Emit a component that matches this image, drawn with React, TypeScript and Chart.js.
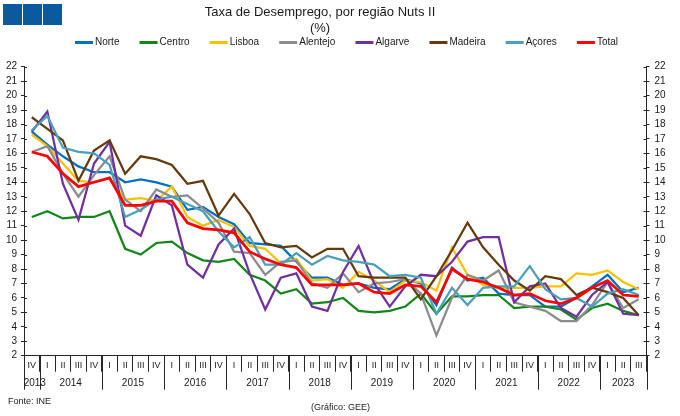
import React, { useEffect, useRef } from 'react';
import { Chart, registerables } from 'chart.js';

Chart.register(...registerables);

// Quarterly unemployment rate (%) by NUTS II region, 2013 Q4 – 2023 Q3
const yearLabels = ['2013', '2014', '2015', '2016', '2017', '2018', '2019', '2020', '2021', '2022', '2023'];
const yearSpans = [1, 4, 4, 4, 4, 4, 4, 4, 4, 4, 3];
const quarterLabels = [
  'IV',
  'I', 'II', 'III', 'IV',
  'I', 'II', 'III', 'IV',
  'I', 'II', 'III', 'IV',
  'I', 'II', 'III', 'IV',
  'I', 'II', 'III', 'IV',
  'I', 'II', 'III', 'IV',
  'I', 'II', 'III', 'IV',
  'I', 'II', 'III', 'IV',
  'I', 'II', 'III', 'IV',
  'I', 'II', 'III',
];

const seriesNames = ['Norte', 'Centro', 'Lisboa', 'Alentejo', 'Algarve', 'Madeira', 'Açores', 'Total'];

const norte = [
  17.5, 16.6, 15.8, 15.1, 14.7, 14.7, 14.0, 14.2, 14.0, 13.7,
  12.1, 12.3, 11.6, 11.1, 9.8, 9.7, 9.6, 8.5, 7.4, 7.4,
  6.9, 7.0, 6.7, 6.6, 7.3, 7.0, 5.5, 8.1, 7.2, 7.4,
  6.3, 6.2, 6.2, 5.4, 5.4, 6.0, 6.8, 7.6, 6.4, 6.7,
];
const centro = [
  11.6, 12.0, 11.5, 11.6, 11.6, 12.0, 9.4, 9.0, 9.8, 9.9,
  9.1, 8.6, 8.5, 8.7, 7.6, 7.2, 6.3, 6.6, 5.6, 5.7,
  6.0, 5.1, 5.0, 5.1, 5.4, 6.3, 4.9, 6.1, 6.1, 6.2,
  6.2, 5.3, 5.4, 5.4, 5.2, 4.5, 5.3, 5.6, 5.1, 4.8,
];
const lisboa = [
  17.3, 16.5, 15.3, 14.1, 14.0, 14.3, 12.8, 12.9, 12.7, 13.7,
  11.6, 11.0, 11.4, 10.9, 9.6, 9.4, 8.4, 8.7, 7.2, 7.3,
  6.7, 7.8, 7.2, 6.4, 7.2, 7.1, 6.5, 9.5, 7.6, 6.9,
  6.7, 6.7, 6.7, 6.8, 6.8, 7.7, 7.6, 7.9, 7.1, 6.6,
];
const alentejo = [
  16.1, 16.5, 14.6, 13.0, 14.5, 15.8, 12.8, 12.0, 13.5, 13.0,
  13.1, 12.2, 11.2, 9.2, 9.1, 7.6, 8.5, 8.6, 7.0, 6.7,
  7.7, 6.4, 7.0, 7.1, 7.3, 6.3, 3.4, 6.0, 7.6, 7.2,
  7.9, 5.7, 5.4, 5.1, 4.4, 4.4, 5.5, 7.1, 5.3, 5.9,
];
const algarve = [
  17.5, 18.9, 13.9, 11.4, 15.3, 16.8, 11.0, 10.3, 13.1, 12.4,
  8.3, 7.4, 9.7, 10.8, 7.7, 5.2, 7.4, 7.7, 5.4, 5.1,
  7.8, 9.6, 7.0, 5.4, 6.8, 7.6, 7.5, 8.5, 9.9, 10.2,
  10.2, 5.7, 6.8, 7.0, 5.3, 4.7, 6.2, 7.1, 4.9, 4.8,
];
const madeira = [
  18.5, 17.7, 16.9, 14.1, 16.2, 16.9, 14.6, 15.8, 15.6, 15.2,
  13.9, 14.1, 11.7, 13.2, 11.8, 9.8, 9.5, 9.6, 8.8, 9.4,
  9.4, 7.5, 7.4, 7.4, 7.4, 5.9, 7.5, 9.3, 11.2, 9.5,
  8.3, 7.2, 6.5, 7.5, 7.3, 6.2, 6.7, 6.4, 6.0, 4.8,
];
const acores = [
  17.6, 18.6, 16.4, 16.1, 16.0, 15.2, 11.6, 12.1, 12.8, 13.0,
  12.5, 12.0, 10.6, 9.5, 10.2, 8.3, 8.3, 9.1, 8.3, 8.9,
  8.6, 8.5, 8.3, 7.5, 7.6, 7.4, 4.9, 6.7, 5.5, 6.7,
  6.8, 6.8, 8.2, 6.6, 5.9, 6.0, 5.4, 6.3, 6.6, 6.2,
];
const total = [
  16.1, 15.8, 14.6, 13.7, 14.0, 14.3, 12.4, 12.4, 12.7, 12.7,
  11.2, 10.8, 10.7, 10.5, 9.2, 8.7, 8.3, 8.1, 6.9, 6.9,
  6.9, 7.0, 6.4, 6.3, 6.9, 6.8, 5.7, 8.0, 7.3, 7.1,
  6.7, 6.2, 6.3, 5.8, 5.6, 6.0, 6.7, 7.2, 6.2, 6.1,
];

const seriesValues = [norte, centro, lisboa, alentejo, algarve, madeira, acores, total];
const seriesColors = ['#0070c0', '#13861a', '#ffc000', '#8c8c8c', '#7030a0', '#653a0c', '#4a9fbb', '#ff0000'];

const yMin = 2;
const yMax = 22;

const titleText = 'Taxa de Desemprego, por região Nuts II';
const unitText = '(%)';
const sourceText = 'Fonte: INE';
const creditText = '(Gráfico: GEE)';

const FONT = '"Liberation Sans", Arial, sans-serif';
const INK = '#1a1a1a';
const AXIS = '#262626';

// one category per quarter, named "year quarter"
const categories: string[] = [];
{
  let q = 0;
  yearLabels.forEach((y, k) => {
    for (let j = 0; j < yearSpans[k]; j++) {
      categories.push(`${y} ${quarterLabels[q]}`);
      q++;
    }
  });
}

const decorations = {
  id: 'decorations',
  afterDraw(chart: any) {
    const { ctx, chartArea: ca } = chart;
    const xs = chart.scales.x;
    const ys = chart.scales.y;
    ctx.save();

    // header blocks
    ctx.fillStyle = '#0b5a9e';
    [3, 23, 43].forEach((x) => ctx.fillRect(x, 4, 19, 21));

    // title
    ctx.fillStyle = INK;
    ctx.textAlign = 'center';
    ctx.textBaseline = 'middle';
    ctx.font = `13px ${FONT}`;
    ctx.fillText(titleText, 320, 12.5);
    ctx.fillText(unitText, 320, 28);

    // legend
    ctx.font = `10px ${FONT}`;
    ctx.textAlign = 'left';
    const ds = chart.data.datasets;
    const widths = ds.map((d: any) => ctx.measureText(d.label).width);
    const sample = 18;
    const gap = 2;
    const start = 75;
    const end = 618;
    const used = widths.reduce((a: number, b: number) => a + b, 0) + ds.length * (sample + gap);
    const spacing = (end - start - used) / (ds.length - 1);
    let lx = start;
    ds.forEach((d: any, i: number) => {
      ctx.strokeStyle = d.borderColor;
      ctx.lineWidth = 3;
      ctx.beginPath();
      ctx.moveTo(lx, 42.5);
      ctx.lineTo(lx + sample, 42.5);
      ctx.stroke();
      ctx.fillStyle = INK;
      ctx.fillText(d.label, lx + sample + gap, 42.5);
      lx += sample + gap + widths[i] + spacing;
    });

    // inner half of the value-axis tick marks
    ctx.strokeStyle = AXIS;
    ctx.lineWidth = 1;
    for (let v = yMin + 1; v <= yMax; v++) {
      const py = Math.round(ys.getPixelForValue(v)) + 0.5;
      ctx.beginPath();
      ctx.moveTo(ca.left, py);
      ctx.lineTo(ca.left + 3, py);
      ctx.moveTo(ca.right - 3, py);
      ctx.lineTo(ca.right, py);
      ctx.stroke();
    }

    // year groups under the quarter labels
    const step = xs.getPixelForValue(1) - xs.getPixelForValue(0);
    const edges: number[] = [];
    let idx = 0;
    ctx.font = `10px ${FONT}`;
    ctx.textAlign = 'center';
    ctx.fillStyle = INK;
    yearLabels.forEach((yl, k) => {
      const span = yearSpans[k];
      const left = xs.getPixelForValue(idx) - step / 2;
      const right = xs.getPixelForValue(idx + span - 1) + step / 2;
      edges.push(left);
      if (k === yearLabels.length - 1) edges.push(right);
      ctx.fillText(yl, (left + right) / 2 + (span === 1 ? 3 : 0), ca.bottom + 28);
      idx += span;
    });
    ctx.strokeStyle = AXIS;
    edges.forEach((e) => {
      const px = Math.round(e) + 0.5;
      ctx.beginPath();
      ctx.moveTo(px, ca.bottom);
      ctx.lineTo(px, ca.bottom + 34);
      ctx.stroke();
    });

    // footer
    ctx.font = `9px ${FONT}`;
    ctx.textAlign = 'left';
    ctx.fillText(sourceText, 8, 402);
    ctx.fillText(creditText, 311, 408);

    ctx.restore();
  },
};

export default function App() {
  const canvasRef = useRef<HTMLCanvasElement | null>(null);

  useEffect(() => {
    if (!canvasRef.current) return;

    const datasets = seriesNames.map((name, i) => ({
      label: name,
      data: seriesValues[i],
      borderColor: seriesColors[i],
      backgroundColor: seriesColors[i],
      borderWidth: name === 'Total' ? 2.75 : 2.25,
      pointRadius: 0,
      tension: 0,
      fill: false,
      order: seriesNames.length - 1 - i,
      yAxisID: 'y',
    }));

    const yTicks = {
      stepSize: 1,
      autoSkip: false,
      color: INK,
      font: { family: FONT, size: 10 },
    };

    const chart = new Chart(canvasRef.current, {
      type: 'line',
      data: { labels: categories, datasets },
      options: {
        responsive: false,
        animation: false,
        events: [],
        layout: { padding: { top: 66.7, left: 0, right: 0, bottom: 0 } },
        plugins: {
          legend: { display: false },
          title: { display: false },
          tooltip: { enabled: false },
        },
        scales: {
          x: {
            type: 'category',
            offset: true,
            grid: {
              offset: true,
              drawOnChartArea: false,
              drawTicks: true,
              tickLength: 16,
              color: AXIS,
            },
            border: { display: true, color: AXIS, width: 1 },
            ticks: {
              autoSkip: false,
              maxRotation: 0,
              minRotation: 0,
              padding: -11.6,
              color: INK,
              font: { family: FONT, size: 9 },
              callback: (_v: any, i: number) => quarterLabels[i],
            },
            afterFit: (s: any) => {
              s.height = 60.3;
            },
          },
          y: {
            position: 'left',
            min: yMin,
            max: yMax,
            grid: { drawOnChartArea: false, drawTicks: true, tickLength: 3, color: AXIS },
            border: { display: true, color: AXIS, width: 1 },
            ticks: { ...yTicks, padding: 4 },
            afterFit: (s: any) => {
              s.width = 24;
            },
          },
          y2: {
            position: 'right',
            min: yMin,
            max: yMax,
            grid: { drawOnChartArea: false, drawTicks: true, tickLength: 3, color: AXIS },
            border: { display: true, color: AXIS, width: 1 },
            ticks: { ...yTicks, padding: 5 },
            afterFit: (s: any) => {
              s.width = 33.5;
            },
          },
        },
      },
      plugins: [decorations],
    });

    return () => chart.destroy();
  }, []);

  return (
    <div style={{ position: 'absolute', left: 0, top: 0, width: 680, height: 416, background: '#fff' }}>
      <canvas ref={canvasRef} width={680} height={416} style={{ display: 'block' }} />
    </div>
  );
}
